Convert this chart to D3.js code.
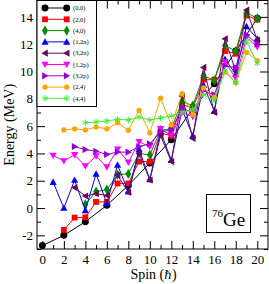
<!DOCTYPE html>
<html>
<head>
<meta charset="utf-8">
<script src="https://cdn.jsdelivr.net/npm/d3@7"></script>
<style>
body { margin: 0; background: #fff; }
text { font-family: "Liberation Serif", "DejaVu Serif", serif; }
</style>
</head>
<body>
<svg id="chart"></svg>
<script>
"use strict";

const width = 269;
const height = 284;
const plotLeft = 37, plotRight = 268, plotTop = 0.5, plotBottom = 249;

// series labels (legend order = drawing order)
const names = ["(0,0)", "(2,0)", "(4,0)", "(1,2n)", "(3,2n)", "(1,2p)", "(3,2p)", "(2,4)", "(4,4)"];
const colors = ["#000000", "#ff0000", "#008b00", "#0000ff", "#650a5a", "#ff00ff", "#9400d3", "#ffa500", "#3cf03c"];
const shapes = ["circle", "square", "diamond", "triUp", "triLeft", "triDown", "triRight", "dot", "asterisk"];

// spins and energies (MeV) for each band
const spin00 = [0, 2, 4, 6, 8, 10, 12, 14, 16, 18, 20];
const energy00 = [-2.75, -2.0, -1.0, 0.2, 1.65, 3.3, 5.0, 7.3, 9.1, 11.5, 13.9];

const spin20 = [2, 3, 4, 5, 6, 7, 8, 9, 10, 11, 12, 13, 14, 15, 16, 17, 18, 19, 20];
const energy20 = [-1.6, -0.7, -0.68, 0.45, 0.45, 1.8, 1.8, 3.4, 3.4, 5.5, 5.3, 7.6, 7.3, 9.4, 9.4, 11.5, 11.3, 14.1, 13.8];

const spin40 = [4, 5, 6, 7, 8, 9, 10, 11, 12, 13, 14, 15, 16, 17, 18, 19, 20];
const energy40 = [0.27, 1.2, 1.35, 2.45, 2.5, 4.0, 3.9, 5.7, 5.8, 7.8, 7.5, 9.7, 9.35, 11.9, 11.5, 14.3, 13.9];

const spin12n = [1, 2, 3, 4, 5, 6, 7, 8, 9, 10, 11, 12, 13, 14, 15, 16, 17, 18, 19, 20];
const energy12n = [1.9, 0.0, 2.05, -0.17, 2.5, 0.35, 3.15, 1.2, 4.3, 2.1, 5.6, 3.5, 7.2, 5.3, 9.0, 7.1, 10.9, 9.8, 13.3, 12.4];

const spin32n = [3, 4, 5, 6, 7, 8, 9, 10, 11, 12, 13, 14, 15, 16, 17, 18, 19, 20];
const energy32n = [1.5, 0.88, 1.05, 0.92, 2.4, 1.15, 4.0, 2.05, 5.3, 3.4, 8.2, 5.1, 10.3, 7.0, 12.4, 10.0, 14.5, 12.3];

const spin12p = [1, 2, 3, 4, 5, 6, 7, 8, 9, 10, 11, 12, 13, 14, 15, 16, 17, 18, 19, 20];
const energy12p = [3.85, 3.45, 3.9, 3.07, 3.8, 3.0, 4.3, 3.35, 4.85, 4.5, 5.8, 5.3, 7.0, 6.7, 8.7, 8.0, 10.7, 9.5, 12.5, 11.8];

const spin32p = [3, 4, 5, 6, 7, 8, 9, 10, 11, 12, 13, 14, 15, 16, 17, 18, 19, 20];
const energy32p = [4.5, 4.28, 4.16, 3.93, 4.1, 4.09, 4.5, 4.7, 5.6, 5.7, 7.3, 7.0, 8.6, 8.3, 10.4, 10.3, 12.7, 12.0];

const spin24 = [2, 3, 4, 5, 6, 7, 8, 9, 10, 11, 12, 13, 14, 15, 16, 17, 18, 19, 20];
const energy24 = [5.72, 5.8, 5.72, 5.93, 5.8, 6.25, 5.7, 7.15, 5.5, 8.05, 6.1, 8.37, 6.85, 8.8, 8.1, 9.95, 9.2, 11.4, 10.8];

const spin44 = [4, 5, 6, 7, 8, 9, 10, 11, 12, 13, 14, 15, 16, 17, 18, 19, 20];
const energy44 = [6.25, 6.3, 6.37, 6.5, 6.45, 6.65, 6.45, 6.6, 6.75, 7.0, 7.2, 8.3, 7.9, 10.1, 9.15, 12.2, 10.6];

// ticks
const xMajor = [0, 2, 4, 6, 8, 10, 12, 14, 16, 18, 20];
const xMinor = [1, 3, 5, 7, 9, 11, 13, 15, 17, 19];
const yMajor = [-2, 0, 2, 4, 6, 8, 10, 12, 14];
const yMinor = [-3, -1, 1, 3, 5, 7, 9, 11, 13, 15];

const spins = [spin00, spin20, spin40, spin12n, spin32n, spin12p, spin32p, spin24, spin44];
const energies = [energy00, energy20, energy40, energy12n, energy32n, energy12p, energy32p, energy24, energy44];

const series = names.map((name, i) => ({
    name: name,
    color: colors[i],
    shape: shapes[i],
    points: spins[i].map((s, j) => ({ spin: s, energy: energies[i][j] }))
}));

const x = d3.scaleLinear().domain([-0.5, 21]).range([plotLeft, plotRight]);
const y = d3.scaleLinear().domain([-3, 15.2]).range([plotBottom, plotTop]);

const svg = d3.select("#chart")
    .attr("width", width)
    .attr("height", height);

// marker drawing
function symbolPath(shape) {
    switch (shape) {
        case "circle": return d3.symbol(d3.symbolCircle, 38)();
        case "square": return d3.symbol(d3.symbolSquare, 34)();
        case "diamond": return d3.symbol(d3.symbolDiamond, 30)();
        case "dot": return d3.symbol(d3.symbolCircle, 22)();
        case "asterisk": return d3.symbol(d3.symbolAsterisk, 28)();
        default: return "M0,-3.6L3.6,2.8L-3.6,2.8Z";
    }
}
const rotation = { triUp: 0, triRight: 90, triDown: 180, triLeft: -90 };

function drawMarker(g, shape, color, cx, cy) {
    const rot = rotation[shape] || 0;
    const p = g.append("path")
        .attr("d", symbolPath(shape))
        .attr("transform", `translate(${cx},${cy}) rotate(${rot})`);
    if (shape === "asterisk") {
        p.attr("fill", "none").attr("stroke", color).attr("stroke-width", 1);
    } else {
        p.attr("fill", color);
    }
}

// series
const line = d3.line().x(d => x(d.spin)).y(d => y(d.energy));
const plot = svg.append("g");
series.forEach(s => {
    const g = plot.append("g");
    g.append("path")
        .datum(s.points)
        .attr("d", line)
        .attr("fill", "none")
        .attr("stroke", s.color)
        .attr("stroke-width", 1);
    s.points.forEach(p => drawMarker(g, s.shape, s.color, x(p.spin), y(p.energy)));
});

// axes, ticks pointing inward
function addAxis(axis, transform, labels) {
    const g = svg.append("g").attr("transform", transform).call(axis);
    g.select(".domain").remove();
    g.selectAll("line").attr("stroke", "#000");
    if (!labels) g.selectAll("text").remove();
    else g.selectAll("text").attr("font-size", 13).attr("fill", "#000");
    return g;
}
addAxis(d3.axisBottom(x).tickValues(xMajor).tickSize(-8).tickSizeOuter(0).tickPadding(6).tickFormat(d3.format("d")),
    `translate(0,${plotBottom})`, true);
addAxis(d3.axisBottom(x).tickValues(xMinor).tickSize(-4).tickSizeOuter(0), `translate(0,${plotBottom})`, false);
addAxis(d3.axisTop(x).tickValues(xMajor).tickSize(-8).tickSizeOuter(0), `translate(0,${plotTop})`, false);
addAxis(d3.axisTop(x).tickValues(xMinor).tickSize(-4).tickSizeOuter(0), `translate(0,${plotTop})`, false);
const yAxisG = addAxis(d3.axisLeft(y).tickValues(yMajor).tickSize(-8).tickSizeOuter(0).tickPadding(4),
    `translate(${plotLeft},0)`, true);
yAxisG.selectAll("text").text(d => d);
addAxis(d3.axisLeft(y).tickValues(yMinor).tickSize(-4).tickSizeOuter(0), `translate(${plotLeft},0)`, false);
addAxis(d3.axisRight(y).tickValues(yMajor).tickSize(-8).tickSizeOuter(0), `translate(${plotRight},0)`, false);
addAxis(d3.axisRight(y).tickValues(yMinor).tickSize(-4).tickSizeOuter(0), `translate(${plotRight},0)`, false);

// frame
svg.append("rect")
    .attr("x", plotLeft).attr("y", plotTop)
    .attr("width", plotRight - plotLeft).attr("height", plotBottom - plotTop)
    .attr("fill", "none").attr("stroke", "#000").attr("stroke-width", 1);

// axis titles
const xTitle = svg.append("text")
    .attr("x", (plotLeft + plotRight) / 2 + 1)
    .attr("y", 279)
    .attr("text-anchor", "middle")
    .attr("font-size", 14);
xTitle.append("tspan").text("Spin (");
xTitle.append("tspan").attr("font-family", "DejaVu Serif").attr("font-size", 12).text("\u210F");
xTitle.append("tspan").text(")");

svg.append("text")
    .attr("transform", `translate(14,${(plotTop + plotBottom) / 2}) rotate(-90)`)
    .attr("text-anchor", "middle")
    .attr("font-size", 14)
    .text("Energy (MeV)");

// legend
const legend = svg.append("g");
legend.append("rect")
    .attr("x", plotLeft).attr("y", plotTop)
    .attr("width", 59.5).attr("height", 106)
    .attr("fill", "#fff").attr("stroke", "#000").attr("stroke-width", 1);
series.forEach((s, i) => {
    const ly = 8 + i * 11.3;
    legend.append("line")
        .attr("x1", 45).attr("x2", 66.7).attr("y1", ly).attr("y2", ly)
        .attr("stroke", s.color).attr("stroke-width", 1);
    drawMarker(legend, s.shape, s.color, 45, ly);
    drawMarker(legend, s.shape, s.color, 66.7, ly);
    legend.append("text")
        .attr("x", 73).attr("y", ly + 2.2)
        .attr("font-size", 6.5)
        .text(s.name);
});

// nucleus label
const tag = svg.append("g");
tag.append("rect")
    .attr("x", 206.5).attr("y", 194.5).attr("width", 44).attr("height", 38)
    .attr("fill", "#fff").attr("stroke", "#000").attr("stroke-width", 1);
const tagText = tag.append("text")
    .attr("x", 228.5).attr("y", 225.5)
    .attr("text-anchor", "middle");
tagText.append("tspan").attr("font-size", 11).attr("dy", -9).text("76");
tagText.append("tspan").attr("font-size", 19).attr("dy", 9).text("Ge");
</script>
</body>
</html>
